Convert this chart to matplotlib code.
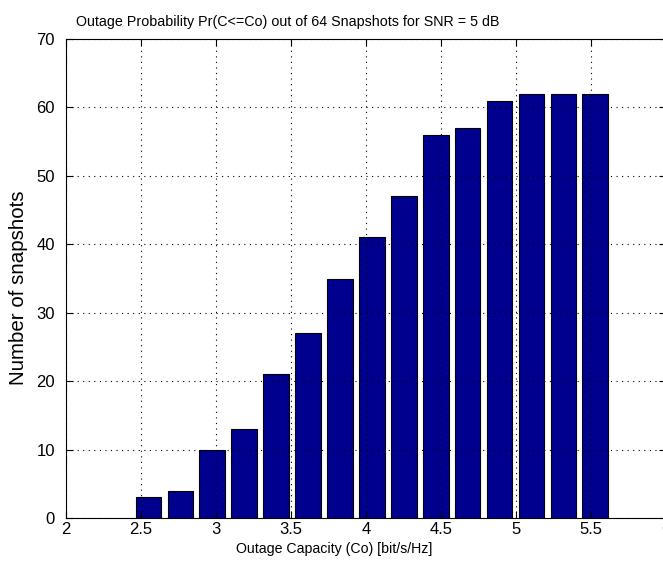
import matplotlib
matplotlib.use('Agg')
import matplotlib.pyplot as plt
import numpy as np

# outage capacity bins (bar centres) and counts
capacity = [2.55, 2.763, 2.975, 3.188, 3.401, 3.614, 3.826, 4.039,
            4.252, 4.465, 4.677, 4.890, 5.103, 5.316, 5.528]
counts = [3, 4, 10, 13, 21, 27, 35, 41, 47, 56, 57, 61, 62, 62, 62]
xticks = [2, 2.5, 3, 3.5, 4, 4.5, 5, 5.5, 6]
yticks = [0, 10, 20, 30, 40, 50, 60, 70]

plt.rcParams['font.family'] = ['Liberation Sans', 'DejaVu Sans']
plt.rcParams['font.size'] = 12

fig = plt.figure(figsize=(6.63, 5.61), dpi=100)
ax = fig.add_axes([66/663, 1 - 518/561, 600/663, (518 - 39)/561])

step = capacity[1] - capacity[0]
ax.bar(capacity, counts, width=0.8*step, color=(0, 0, 0.5625),
       edgecolor='black', linewidth=0.8, zorder=2)

ax.set_xlim(2, 6)
ax.set_ylim(0, 70)
ax.set_xticks(xticks)
ax.set_xticklabels([f'{t:g}' for t in xticks])
ax.set_yticks(yticks)
ax.grid(True, linestyle=(0, (1, 4)), color='black', linewidth=0.8, zorder=3)
ax.set_axisbelow(False)
ax.tick_params(direction='in', top=True, right=True, length=5)
ax.tick_params(axis='x', pad=3)
ax.tick_params(axis='y', pad=8)

# title sits left of the axes centre in the original (figure is cropped)
fig.text(288/663, 1 - 26/561,
         'Outage Probability Pr(C<=Co) out of 64 Snapshots for SNR = 5 dB',
         ha='center', va='baseline', fontsize=10.3)
ax.set_xlabel('Outage Capacity (Co) [bit/s/Hz]', fontsize=10.2)
ax.xaxis.set_label_coords(0.447, -0.051)
ax.set_ylabel('Number of snapshots', fontsize=14.8)
ax.yaxis.set_label_coords(-0.063, 0.48)

fig.savefig('out.png', dpi=100)
